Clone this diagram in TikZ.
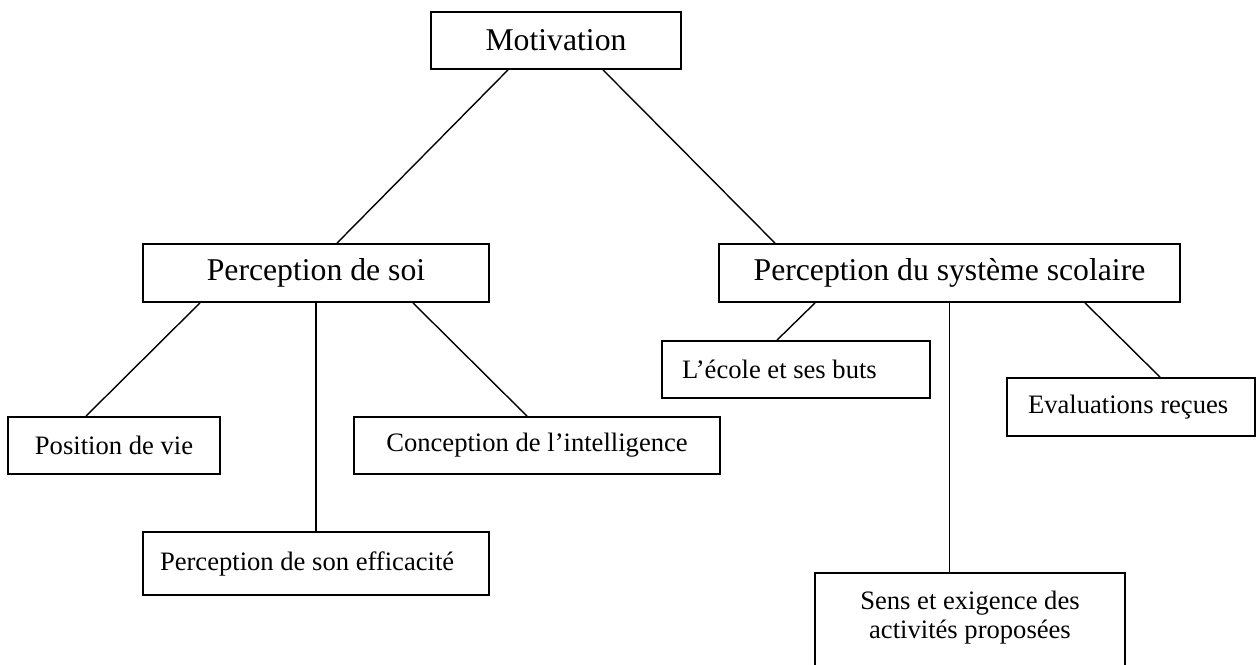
\documentclass[tikz,border=0pt]{standalone}
\usepackage{fontspec}
\setmainfont{Liberation Serif}
\tikzset{
	tree/.style={x=1pt,y=-1pt,line width=1.4pt},
	box/.style={draw,line width=1.8pt,inner sep=0pt,minimum height=57pt},
	root/.style={box,font=\fontsize{31.7}{38}\selectfont},
	aspect/.style={box,minimum height=58pt,font=\fontsize{31.7}{38}\selectfont},
	factor/.style={box,font=\fontsize{26.6}{29}\selectfont},
	factor left/.style={factor,align=flush left,inner xsep=#1}
}

\begin{document}
\begin{tikzpicture}[tree]
		\useasboundingbox (0,0) rectangle (1257,664);
		
		\node[root,minimum width=250pt] (mot) at (556,40.5) {Motivation};
		
		\node[aspect,minimum width=346pt] (soi) at (316,273) {Perception de soi};
		\node[aspect,minimum width=461pt] (sys) at (949.5,273) {Perception du système scolaire};
		
		\node[factor,minimum width=212pt] (pos) at (114,445.5) {Position de vie};
		\node[factor,minimum width=366pt] (conc) at (537,445.5) {Conception de l’intelligence};
		\node[factor left=17pt,text width=312pt,minimum height=63pt] (eff) at (316,563.5) {Perception de son efficacité};
		
		\node[factor left=20pt,text width=228pt] (ecole) at (796,369.5) {L’école et ses buts};
		\node[factor left=21pt,text width=206pt,minimum height=58pt] (eval) at (1131,407) {Evaluations reçues};
		\node[factor,text width=310pt,align=flush center,text height=37pt,text depth=80pt,anchor=north] (sens) at (970,572) {Sens et exigence des\\activités proposées};
		
		
		\draw ([xshift=-48pt]mot.south) -- ([xshift=21pt]soi.north);
		\draw ([xshift=47pt]mot.south) -- ([xshift=-174.5pt]sys.north);
		
		\draw ([xshift=-116pt]soi.south) -- ([xshift=-28pt]pos.north);
		\draw (soi.south) -- (eff.north);
		\draw ([xshift=97pt]soi.south) -- ([xshift=-10pt]conc.north);
		
		\draw ([xshift=-134.5pt]sys.south) -- ([xshift=-19pt]ecole.north);
		\draw (sys.south) -- (sys.south |- sens.north);
		\draw ([xshift=135.5pt]sys.south) -- ([xshift=29pt]eval.north);
		
\end{tikzpicture}
\end{document}
